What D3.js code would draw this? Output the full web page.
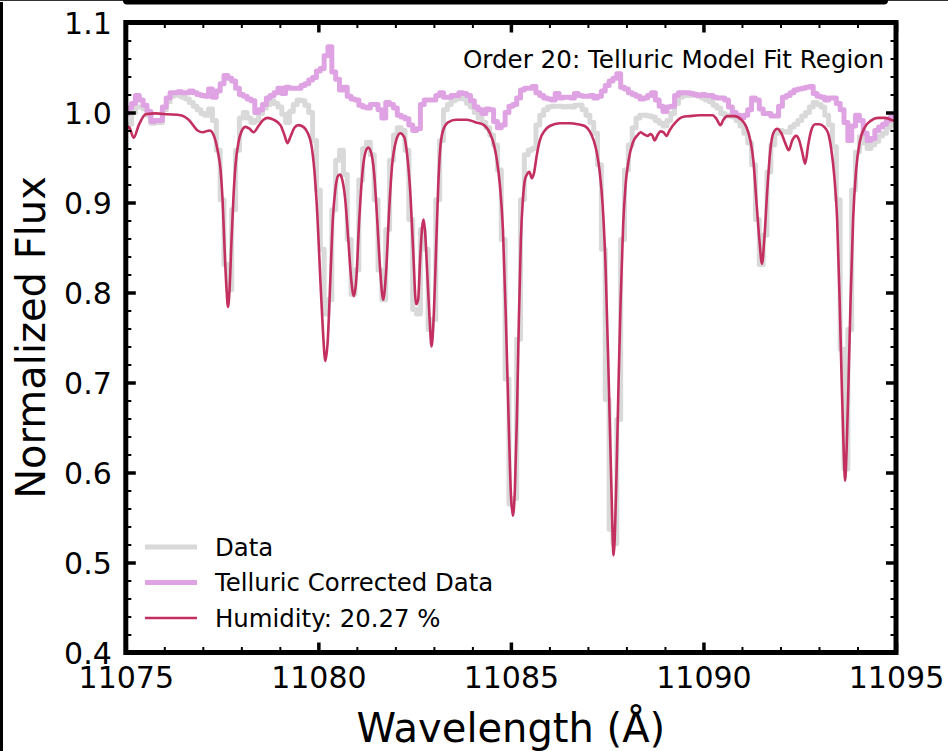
<!DOCTYPE html>
<html>
<head>
<meta charset="utf-8">
<script src="https://cdn.jsdelivr.net/npm/d3@7"></script>
<style>
  html, body { margin: 0; padding: 0; background: #fff; }
  svg { display: block; font-family: "DejaVu Sans", sans-serif; }
</style>
</head>
<body>
<svg id="chart" width="948" height="751"></svg>
<script>
// spectrum sampling (Angstrom)
const waveStart = 11075;
const waveStep = 0.1;

// observed data, 0.1 A bins
const dataFlux = [
  0.983, 0.987, 1.000, 1.006, 1.006, 1.004, 0.997, 0.988, 0.989, 0.989,
  1.003, 1.012, 1.018, 1.020, 1.019, 1.017, 1.015, 1.011, 1.007, 1.003,
  0.999, 0.997, 1.004, 0.991, 0.958, 0.903, 0.831, 0.803, 0.892, 0.958,
  0.994, 1.000, 0.994, 0.989, 0.991, 0.999, 1.005, 1.009, 1.013, 1.010,
  1.006, 0.998, 0.989, 1.001, 1.009, 1.014, 1.013, 1.008, 1.000, 0.969,
  0.914, 0.848, 0.776, 0.792, 0.892, 0.947, 0.958, 0.931, 0.859, 0.798,
  0.825, 0.925, 0.960, 0.967, 0.953, 0.903, 0.825, 0.792, 0.870, 0.947,
  0.975, 0.983, 0.980, 0.958, 0.881, 0.781, 0.776, 0.870, 0.848, 0.759,
  0.770, 0.903, 0.969, 1.003, 1.009, 1.013, 1.015, 1.016, 1.015, 1.010,
  1.006, 1.000, 0.994, 0.989, 0.983, 0.975, 0.964, 0.936, 0.859, 0.704,
  0.565, 0.571, 0.748, 0.903, 0.953, 0.958, 0.960, 0.986, 0.997, 1.003,
  1.006, 1.007, 1.007, 1.007, 1.006, 1.007, 1.006, 1.008, 1.008, 1.003,
  0.997, 0.989, 0.977, 0.942, 0.848, 0.681, 0.537, 0.521, 0.659, 0.859,
  0.936, 0.964, 0.983, 0.994, 0.997, 0.997, 0.996, 0.995, 0.991, 0.988,
  0.985, 0.991, 0.999, 1.010, 1.017, 1.019, 1.019, 1.019, 1.019, 1.018,
  1.016, 1.014, 1.012, 1.008, 1.005, 0.999, 0.997, 0.996, 0.995, 0.991,
  0.985, 0.977, 0.966, 0.942, 0.881, 0.831, 0.864, 0.934, 0.964, 0.977,
  0.980, 0.979, 0.978, 0.984, 0.987, 0.991, 0.996, 1.000, 1.006, 1.011,
  1.009, 1.006, 0.997, 0.986, 0.962, 0.903, 0.737, 0.604, 0.759, 0.914,
  0.956, 0.973, 0.966, 0.960, 0.964, 0.968, 0.974, 0.977, 0.983, 0.986,
  0.987
];

// data divided by telluric model, same bins
const correctedFlux = [
  0.999, 1.005, 1.010, 1.019, 1.014, 1.008, 1.001, 0.990, 0.991, 0.991,
  1.006, 1.016, 1.022, 1.022, 1.023, 1.022, 1.022, 1.024, 1.022, 1.020,
  1.019, 1.018, 1.026, 1.017, 1.024, 1.032, 1.041, 1.038, 1.035, 1.027,
  1.020, 1.018, 1.015, 1.013, 1.000, 1.003, 1.009, 1.016, 1.019, 1.022,
  1.027, 1.021, 1.028, 1.027, 1.027, 1.027, 1.030, 1.032, 1.036, 1.039,
  1.046, 1.049, 1.063, 1.073, 1.045, 1.037, 1.025, 1.028, 1.018, 1.015,
  1.014, 1.008, 1.006, 1.005, 1.009, 1.009, 1.003, 0.994, 1.011, 1.009,
  1.005, 0.997, 0.995, 0.993, 0.986, 0.980, 0.982, 1.009, 1.014, 1.014,
  1.014, 1.019, 1.022, 1.017, 1.017, 1.019, 1.019, 1.022, 1.021, 1.019,
  1.013, 1.006, 1.003, 0.999, 1.004, 1.003, 0.990, 0.983, 0.986, 1.000,
  1.007, 1.009, 1.016, 1.025, 1.027, 1.027, 1.029, 1.022, 1.019, 1.016,
  1.015, 1.014, 1.021, 1.016, 1.017, 1.017, 1.016, 1.021, 1.019, 1.018,
  1.018, 1.019, 1.016, 1.018, 1.024, 1.030, 1.035, 1.038, 1.043, 1.028,
  1.026, 1.022, 1.020, 1.018, 1.015, 1.016, 1.019, 1.022, 1.014, 1.007,
  1.001, 1.006, 1.007, 1.019, 1.022, 1.022, 1.022, 1.021, 1.020, 1.019,
  1.020, 1.019, 1.019, 1.017, 1.016, 1.016, 1.014, 1.006, 1.000, 0.997,
  0.994, 0.997, 1.003, 1.016, 1.014, 1.004, 0.999, 0.999, 0.996, 0.996,
  1.007, 1.017, 1.019, 1.022, 1.025, 1.026, 1.027, 1.028, 1.029, 1.021,
  1.018, 1.017, 1.014, 1.016, 1.016, 1.010, 1.003, 0.989, 0.969, 0.985,
  0.997, 0.991, 0.977, 0.969, 0.971, 0.980, 0.984, 0.987, 0.991, 0.995,
  0.996
];

// best fit telluric model (humidity 20.27 %)
const modelWave = [
  11075.000, 11075.078, 11075.207, 11075.337, 11075.518, 11075.777, 11076.088, 11076.425,
  11076.632, 11076.865, 11076.995, 11077.176, 11077.280, 11077.383, 11077.461, 11077.513,
  11077.565, 11077.617, 11077.655, 11077.694, 11077.746, 11077.798, 11077.850, 11077.927,
  11078.005, 11078.109, 11078.212, 11078.316, 11078.446, 11078.575, 11078.679, 11078.834,
  11079.016, 11079.119, 11079.197, 11079.275, 11079.378, 11079.482, 11079.611, 11079.715,
  11079.819, 11079.896, 11079.974, 11080.052, 11080.117, 11080.181, 11080.246, 11080.311,
  11080.376, 11080.440, 11080.518, 11080.570, 11080.622, 11080.699, 11080.777, 11080.855,
  11080.920, 11080.984, 11081.062, 11081.140, 11081.218, 11081.295, 11081.373, 11081.451,
  11081.528, 11081.606, 11081.684, 11081.762, 11081.839, 11081.917, 11082.021, 11082.124,
  11082.228, 11082.306, 11082.383, 11082.461, 11082.539, 11082.591, 11082.642, 11082.694,
  11082.733, 11082.772, 11082.824, 11082.889, 11082.940, 11082.992, 11083.057, 11083.109,
  11083.161, 11083.238, 11083.368, 11083.575, 11083.860, 11084.093, 11084.301, 11084.456,
  11084.560, 11084.637, 11084.715, 11084.793, 11084.870, 11084.948, 11085.000, 11085.052,
  11085.104, 11085.155, 11085.207, 11085.259, 11085.311, 11085.363, 11085.415, 11085.479,
  11085.544, 11085.596, 11085.674, 11085.751, 11085.881, 11086.010, 11086.269, 11086.528,
  11086.736, 11086.917, 11087.047, 11087.150, 11087.228, 11087.306, 11087.383, 11087.461,
  11087.539, 11087.604, 11087.668, 11087.733, 11087.798, 11087.850, 11087.915, 11087.979,
  11088.057, 11088.161, 11088.290, 11088.368, 11088.446, 11088.549, 11088.627, 11088.679,
  11088.731, 11088.808, 11088.886, 11088.964, 11089.041, 11089.119, 11089.275, 11089.456,
  11089.637, 11089.896, 11090.233, 11090.337, 11090.440, 11090.518, 11090.622, 11090.803,
  11090.984, 11091.114, 11091.218, 11091.295, 11091.373, 11091.451, 11091.521, 11091.580,
  11091.658, 11091.736, 11091.813, 11091.917, 11092.021, 11092.124, 11092.215, 11092.306,
  11092.409, 11092.487, 11092.565, 11092.642, 11092.720, 11092.798, 11092.902, 11093.005,
  11093.135, 11093.238, 11093.316, 11093.394, 11093.472, 11093.536, 11093.588, 11093.640,
  11093.679, 11093.718, 11093.769, 11093.821, 11093.886, 11093.964, 11094.067, 11094.197,
  11094.352, 11094.534, 11094.715, 11094.870, 11095.000
];
const modelFlux = [
  0.980, 0.984, 0.972, 0.986, 0.998, 0.999, 0.998, 0.997,
  0.992, 0.980, 0.978, 0.980, 0.975, 0.958, 0.936, 0.903,
  0.848, 0.803, 0.784, 0.803, 0.859, 0.908, 0.942, 0.967,
  0.979, 0.984, 0.982, 0.978, 0.985, 0.992, 0.994, 0.992,
  0.986, 0.975, 0.966, 0.973, 0.983, 0.986, 0.984, 0.978,
  0.964, 0.936, 0.886, 0.814, 0.759, 0.724, 0.748, 0.814,
  0.881, 0.914, 0.930, 0.931, 0.925, 0.903, 0.859, 0.814,
  0.796, 0.814, 0.881, 0.931, 0.955, 0.961, 0.955, 0.931,
  0.881, 0.825, 0.792, 0.825, 0.892, 0.942, 0.969, 0.977,
  0.973, 0.953, 0.914, 0.848, 0.787, 0.792, 0.836, 0.872,
  0.881, 0.867, 0.825, 0.770, 0.740, 0.770, 0.848, 0.914,
  0.958, 0.980, 0.989, 0.992, 0.992, 0.989, 0.986, 0.977,
  0.964, 0.947, 0.919, 0.870, 0.770, 0.648, 0.576, 0.552,
  0.582, 0.659, 0.770, 0.859, 0.903, 0.925, 0.931, 0.934,
  0.927, 0.932, 0.953, 0.969, 0.980, 0.985, 0.988, 0.988,
  0.987, 0.985, 0.979, 0.969, 0.956, 0.934, 0.897, 0.825,
  0.704, 0.593, 0.508, 0.582, 0.704, 0.792, 0.875, 0.920,
  0.947, 0.966, 0.975, 0.978, 0.976, 0.974, 0.976, 0.974,
  0.969, 0.975, 0.979, 0.978, 0.974, 0.980, 0.989, 0.995,
  0.996, 0.997, 0.997, 0.993, 0.986, 0.992, 0.996, 0.996,
  0.992, 0.984, 0.969, 0.947, 0.903, 0.859, 0.832, 0.859,
  0.914, 0.958, 0.977, 0.982, 0.977, 0.966, 0.958, 0.969,
  0.974, 0.969, 0.956, 0.943, 0.964, 0.980, 0.987, 0.987,
  0.984, 0.977, 0.960, 0.931, 0.881, 0.792, 0.704, 0.626,
  0.591, 0.626, 0.704, 0.792, 0.881, 0.936, 0.969, 0.984,
  0.991, 0.994, 0.994, 0.992, 0.990
];

const xMajorTicks = [11075, 11080, 11085, 11090, 11095];
const yMajorTicks = [0.4, 0.5, 0.6, 0.7, 0.8, 0.9, 1.0, 1.1];
const legendLabels = ['Data', 'Telluric Corrected Data', 'Humidity: 20.27 %'];
const titleText = 'Order 20: Telluric Model Fit Region';

const colors = {
    data: '#d9d9d9',
    corrected: '#dfa3e3',
    model: '#c3305f'
};

const svg = d3.select('#chart');

// outer border remnants of the figure
svg.append('rect').attr('x', 0).attr('y', 2).attr('width', 3).attr('height', 749).attr('fill', '#000');
svg.append('line').attr('x1', 0).attr('x2', 948).attr('y1', 0.5).attr('y2', 0.5)
    .attr('stroke', '#333').attr('stroke-width', 1);
svg.append('rect').attr('x', 123).attr('y', -6).attr('width', 765).attr('height', 10.5)
    .attr('rx', 4).attr('fill', '#000');

const plot = { left: 125.8, right: 896, top: 22.5, bottom: 652.5 };

const x = d3.scaleLinear().domain([11075, 11095]).range([plot.left, plot.right]);
const y = d3.scaleLinear().domain([0.4, 1.1]).range([plot.bottom, plot.top]);

svg.append('defs').append('clipPath').attr('id', 'plotClip')
    .append('rect')
    .attr('x', plot.left).attr('y', plot.top)
    .attr('width', plot.right - plot.left).attr('height', plot.bottom - plot.top);

const dataPoints = dataFlux.map((f, i) => ({ w: waveStart + i * waveStep, f }));
const correctedPoints = correctedFlux.map((f, i) => ({ w: waveStart + i * waveStep, f }));
const modelPoints = modelWave.map((w, i) => ({ w, f: modelFlux[i] }));

const stepLine = d3.line().x(d => x(d.w)).y(d => y(d.f)).curve(d3.curveStep);
const smoothLine = d3.line().x(d => x(d.w)).y(d => y(d.f)).curve(d3.curveMonotoneX);

const g = svg.append('g').attr('clip-path', 'url(#plotClip)');

g.append('path').datum(dataPoints)
    .attr('d', stepLine)
    .attr('fill', 'none')
    .attr('stroke', colors.data)
    .attr('stroke-width', 5)
    .attr('stroke-linejoin', 'round');

g.append('path').datum(correctedPoints)
    .attr('d', stepLine)
    .attr('fill', 'none')
    .attr('stroke', colors.corrected)
    .attr('stroke-width', 5)
    .attr('stroke-linejoin', 'round');

g.append('path').datum(modelPoints)
    .attr('d', smoothLine)
    .attr('fill', 'none')
    .attr('stroke', colors.model)
    .attr('stroke-width', 2.6)
    .attr('stroke-linejoin', 'round');

// ticks: all four sides, pointing inward
const xMinor = d3.range(11075, 11096, 1).filter(v => v % 5 !== 0);
const yMinor = d3.range(40, 111, 2).filter(v => v % 10 !== 0).map(v => v / 100);

function tickStyle(sel, width) {
    sel.select('.domain').remove();
    sel.selectAll('.tick line').attr('stroke', '#000').attr('stroke-width', width);
}

// bottom
svg.append('g').attr('transform', `translate(0,${plot.bottom})`)
    .call(d3.axisBottom(x).tickValues(xMinor).tickSize(-5.5).tickFormat(''))
    .call(s => tickStyle(s, 2));
const xAxis = svg.append('g').attr('transform', `translate(0,${plot.bottom})`)
    .call(d3.axisBottom(x).tickValues(xMajorTicks).tickSize(-10).tickPadding(14).tickFormat(d3.format('d')))
    .call(s => tickStyle(s, 3.5));
xAxis.selectAll('text')
    .attr('font-family', '"DejaVu Sans", sans-serif')
    .attr('font-size', 30)
    .attr('fill', '#000');

// top
svg.append('g').attr('transform', `translate(0,${plot.top})`)
    .call(d3.axisTop(x).tickValues(xMinor).tickSize(-5.5).tickFormat(''))
    .call(s => tickStyle(s, 2));
svg.append('g').attr('transform', `translate(0,${plot.top})`)
    .call(d3.axisTop(x).tickValues(xMajorTicks).tickSize(-10).tickFormat(''))
    .call(s => tickStyle(s, 3.5));

// left
svg.append('g').attr('transform', `translate(${plot.left},0)`)
    .call(d3.axisLeft(y).tickValues(yMinor).tickSize(-5.5).tickFormat(''))
    .call(s => tickStyle(s, 2));
const yAxis = svg.append('g').attr('transform', `translate(${plot.left},0)`)
    .call(d3.axisLeft(y).tickValues(yMajorTicks).tickSize(-10).tickPadding(14).tickFormat(d3.format('.1f')))
    .call(s => tickStyle(s, 3.5));
yAxis.selectAll('text')
    .attr('font-family', '"DejaVu Sans", sans-serif')
    .attr('font-size', 30)
    .attr('fill', '#000')
    .attr('dy', '0.36em');

// right
svg.append('g').attr('transform', `translate(${plot.right},0)`)
    .call(d3.axisRight(y).tickValues(yMinor).tickSize(-5.5).tickFormat(''))
    .call(s => tickStyle(s, 2));
svg.append('g').attr('transform', `translate(${plot.right},0)`)
    .call(d3.axisRight(y).tickValues(yMajorTicks).tickSize(-10).tickFormat(''))
    .call(s => tickStyle(s, 3.5));

// frame
svg.append('rect')
    .attr('x', plot.left).attr('y', plot.top)
    .attr('width', plot.right - plot.left).attr('height', plot.bottom - plot.top)
    .attr('fill', 'none')
    .attr('stroke', '#000')
    .attr('stroke-width', 5);

// axis labels
svg.append('text')
    .attr('x', (plot.left + plot.right) / 2)
    .attr('y', 742)
    .attr('text-anchor', 'middle')
    .attr('font-size', 40)
    .text('Wavelength (Å)');

svg.append('text')
    .attr('transform', `translate(45,${(plot.top + plot.bottom) / 2}) rotate(-90)`)
    .attr('text-anchor', 'middle')
    .attr('font-size', 40)
    .text('Normalized Flux');

// panel title
svg.append('text')
    .attr('x', 884)
    .attr('y', 68)
    .attr('text-anchor', 'end')
    .attr('font-size', 24.6)
    .text(titleText);

// legend
const legendColors = [colors.data, colors.corrected, colors.model];
const legendWidths = [5, 5, 2.6];
const legend = svg.append('g');
legendLabels.forEach((label, i) => {
    const ly = 547 + i * 35.5;
    legend.append('line')
        .attr('x1', 145).attr('x2', 197)
        .attr('y1', ly).attr('y2', ly)
        .attr('stroke', legendColors[i])
        .attr('stroke-width', legendWidths[i]);
    legend.append('text')
        .attr('x', 215)
        .attr('y', ly + 8.5)
        .attr('font-size', 24.4)
        .text(label);
});
</script>
</body>
</html>
